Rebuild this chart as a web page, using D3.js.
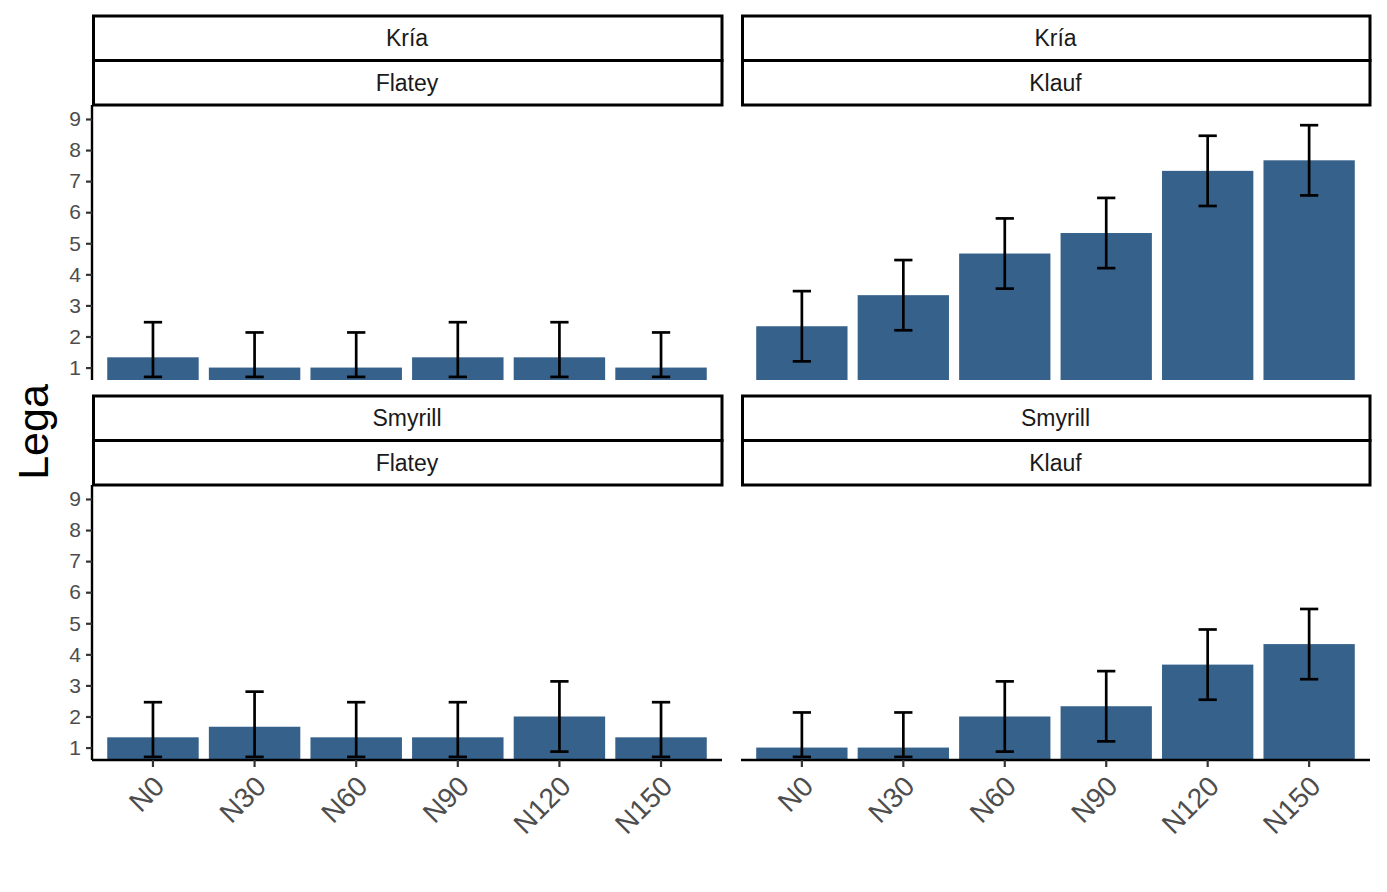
<!DOCTYPE html>
<html>
<head>
<meta charset="utf-8">
<script src="https://cdn.jsdelivr.net/npm/d3@7"></script>
<style>
  body { margin: 0; background: #fff; }
  svg text { font-family: "Liberation Sans", Arial, sans-serif; }
</style>
</head>
<body>
<div id="chart"></div>
<script>
var treatments = ["N0", "N30", "N60", "N90", "N120", "N150"];
var birds = ["Kría", "Smyrill"];
var sites = ["Flatey", "Klauf"];
var yTicks = [1, 2, 3, 4, 5, 6, 7, 8, 9];

// mean and error bar ends, one set per panel
var kriaFlateyMean = [1.33, 1, 1, 1.33, 1.33, 1];
var kriaFlateyLow = [0.7, 0.7, 0.7, 0.7, 0.7, 0.7];
var kriaFlateyHigh = [2.46, 2.13, 2.13, 2.46, 2.46, 2.13];

var kriaKlaufMean = [2.33, 3.33, 4.67, 5.33, 7.33, 7.67];
var kriaKlaufLow = [1.2, 2.2, 3.54, 4.2, 6.2, 6.54];
var kriaKlaufHigh = [3.46, 4.46, 5.8, 6.46, 8.46, 8.8];

var smyrillFlateyMean = [1.33, 1.67, 1.33, 1.33, 2, 1.33];
var smyrillFlateyLow = [0.7, 0.7, 0.7, 0.7, 0.87, 0.7];
var smyrillFlateyHigh = [2.46, 2.8, 2.46, 2.46, 3.13, 2.46];

var smyrillKlaufMean = [1, 1, 2, 2.33, 3.67, 4.33];
var smyrillKlaufLow = [0.7, 0.7, 0.87, 1.2, 2.54, 3.2];
var smyrillKlaufHigh = [2.13, 2.13, 3.13, 3.46, 4.8, 5.46];

var panels = [
  {row: 0, col: 0, mean: kriaFlateyMean, low: kriaFlateyLow, high: kriaFlateyHigh},
  {row: 0, col: 1, mean: kriaKlaufMean, low: kriaKlaufLow, high: kriaKlaufHigh},
  {row: 1, col: 0, mean: smyrillFlateyMean, low: smyrillFlateyLow, high: smyrillFlateyHigh},
  {row: 1, col: 1, mean: smyrillKlaufMean, low: smyrillKlaufLow, high: smyrillKlaufHigh}
];

var width = 1387, height = 892;
var barColor = "#36618b";

// panel geometry
var colX = [[92, 722], [741, 1370]];
var rowTop = [16, 396];
var stripH = 44.5;
var panelH = 275;

var svg = d3.select("#chart").append("svg")
    .attr("width", width)
    .attr("height", height);

panels.forEach(function(p) {
  var x0 = colX[p.col][0], x1 = colX[p.col][1];
  var stripTop = rowTop[p.row];
  var pTop = stripTop + 2 * stripH;
  var pBottom = pTop + panelH;

  var x = d3.scaleBand()
      .domain(treatments)
      .range([x0, x1])
      .paddingInner(0.1)
      .paddingOuter(0.15);

  var y = d3.scaleLinear()
      .domain([0.6, 9.45])
      .range([pBottom, pTop]);

  // strips
  [birds[p.row], sites[p.col]].forEach(function(lab, i) {
    var sy = stripTop + i * stripH;
    svg.append("rect")
        .attr("x", x0 + 1.5)
        .attr("y", sy)
        .attr("width", x1 - x0 - 1.5)
        .attr("height", stripH)
        .attr("fill", "#fff")
        .attr("stroke", "#000")
        .attr("stroke-width", 3);
    svg.append("text")
        .attr("x", (x0 + x1) / 2)
        .attr("y", sy + stripH / 2)
        .attr("dy", "0.35em")
        .attr("text-anchor", "middle")
        .attr("font-size", 23)
        .attr("fill", "#1a1a1a")
        .text(lab);
  });

  var clipId = "clip" + p.row + p.col;
  svg.append("clipPath").attr("id", clipId)
    .append("rect")
      .attr("x", x0).attr("y", pTop)
      .attr("width", x1 - x0).attr("height", panelH);

  var g = svg.append("g").attr("clip-path", "url(#" + clipId + ")");

  g.selectAll(".bar")
      .data(treatments)
      .enter().append("rect")
      .attr("class", "bar")
      .attr("x", function(d) { return x(d); })
      .attr("width", x.bandwidth())
      .attr("y", function(d, i) { return y(p.mean[i]); })
      .attr("height", function(d, i) { return pBottom - y(p.mean[i]); })
      .attr("fill", barColor);

  var capW = x.bandwidth() * 0.2;
  var eb = g.selectAll(".err")
      .data(treatments)
      .enter().append("g")
      .attr("class", "err")
      .attr("stroke", "#000")
      .attr("stroke-width", 2.7);
  eb.append("line")
      .attr("x1", function(d) { return x(d) + x.bandwidth() / 2; })
      .attr("x2", function(d) { return x(d) + x.bandwidth() / 2; })
      .attr("y1", function(d, i) { return y(p.low[i]); })
      .attr("y2", function(d, i) { return y(p.high[i]); });
  eb.append("line")
      .attr("x1", function(d) { return x(d) + x.bandwidth() / 2 - capW / 2; })
      .attr("x2", function(d) { return x(d) + x.bandwidth() / 2 + capW / 2; })
      .attr("y1", function(d, i) { return y(p.high[i]); })
      .attr("y2", function(d, i) { return y(p.high[i]); });
  eb.append("line")
      .attr("x1", function(d) { return x(d) + x.bandwidth() / 2 - capW / 2; })
      .attr("x2", function(d) { return x(d) + x.bandwidth() / 2 + capW / 2; })
      .attr("y1", function(d, i) { return y(p.low[i]); })
      .attr("y2", function(d, i) { return y(p.low[i]); });

  // y axis only on the left column
  if (p.col === 0) {
    var yAxis = svg.append("g")
        .attr("transform", "translate(" + x0 + ",0)")
        .call(d3.axisLeft(y).tickValues(yTicks).tickSize(6).tickPadding(5));
    yAxis.select(".domain").attr("stroke", "#000").attr("stroke-width", 2.4)
        .attr("d", "M0," + pTop + "V" + pBottom);
    yAxis.selectAll(".tick line").attr("stroke", "#333").attr("stroke-width", 2.2);
    yAxis.selectAll(".tick text").attr("fill", "#4d4d4d").attr("font-size", 21)
        .attr("font-family", "Liberation Sans, Arial, sans-serif");
  }

  // x axis only on the bottom row
  if (p.row === 1) {
    var xAxis = svg.append("g")
        .attr("transform", "translate(0," + pBottom + ")")
        .call(d3.axisBottom(x).tickSize(7).tickPadding(4));
    xAxis.select(".domain").attr("stroke", "#000").attr("stroke-width", 2.4)
        .attr("d", "M" + x0 + ",0H" + x1);
    xAxis.selectAll(".tick line").attr("stroke", "#333").attr("stroke-width", 2.2);
    xAxis.selectAll(".tick text")
        .attr("fill", "#4d4d4d")
        .attr("font-size", 28)
        .attr("font-family", "Liberation Sans, Arial, sans-serif")
        .attr("text-anchor", "end")
        .attr("dy", "0.71em")
        .attr("transform", "translate(-1,14) rotate(-45)")
        .attr("y", 0)
        .attr("x", 0);
  }
});

svg.append("text")
    .attr("transform", "translate(48,432) rotate(-90)")
    .attr("text-anchor", "middle")
    .attr("font-size", 43)
    .attr("fill", "#000")
    .text("Lega");
</script>
</body>
</html>
